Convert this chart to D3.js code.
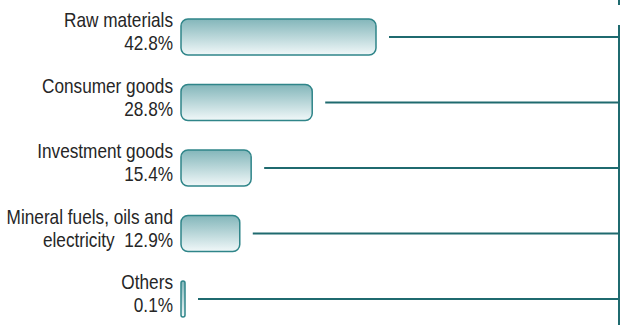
<!DOCTYPE html>
<html>
<head>
<meta charset="utf-8">
<script src="https://cdn.jsdelivr.net/npm/d3@7"></script>
<style>
  body { margin: 0; background: #fff; }
  svg { display: block; }
  .label { font-family: "Liberation Sans", Arial, sans-serif; font-size: 21px; fill: #262626; }
</style>
</head>
<body>
<svg width="620" height="325"></svg>
<script>
  const categories = ['Raw materials', 'Consumer goods', 'Investment goods', 'Mineral fuels, oils and', 'Others'];
  const labelLine2 = ['42.8%', '28.8%', '15.4%', 'electricity  12.9%', '0.1%'];
  const values = [42.8, 28.8, 15.4, 12.9, 0.1];

  const svg = d3.select('svg');
  const width = 620;
  const height = 325;

  const barLeft = 181;
  const rightEdge = 619;

  const xScale = d3.scaleLinear()
    .domain([0, 42.8])
    .range([0, 195]);

  const yScale = d3.scalePoint()
    .domain(categories)
    .range([37, 299]);

  const barH = 36;

  // gradient for the rounded bars
  const grad = svg.append('defs').append('linearGradient')
    .attr('id', 'barFill')
    .attr('x1', 0).attr('y1', 0).attr('x2', 0).attr('y2', 1);
  grad.append('stop').attr('offset', '0%').attr('stop-color', '#83b6ba');
  grad.append('stop').attr('offset', '100%').attr('stop-color', '#f1f8f9');

  const data = categories.map((c, i) => ({ cat: c, line2: labelLine2[i], value: values[i] }));

  // right-hand frame line
  svg.append('line')
    .attr('x1', rightEdge).attr('x2', rightEdge)
    .attr('y1', 25).attr('y2', height)
    .attr('stroke', '#1f6a6f')
    .attr('stroke-width', 2);
  svg.append('line')
    .attr('x1', rightEdge).attr('x2', rightEdge)
    .attr('y1', 0).attr('y2', 5)
    .attr('stroke', '#1f6a6f')
    .attr('stroke-width', 2);

  const rows = svg.selectAll('g.row')
    .data(data)
    .enter()
    .append('g')
    .attr('class', 'row');

  const barW = (d) => Math.max(xScale(d.value), 4);

  rows.append('rect')
    .attr('x', barLeft)
    .attr('y', (d) => yScale(d.cat) - barH / 2)
    .attr('width', barW)
    .attr('height', barH)
    .attr('rx', (d) => Math.min(7, barW(d) / 2))
    .attr('fill', 'url(#barFill)')
    .attr('stroke', '#2f8589')
    .attr('stroke-width', 1.5);

  // leader lines to the frame
  rows.append('line')
    .attr('x1', (d) => barLeft + barW(d) + 13)
    .attr('x2', rightEdge)
    .attr('y1', (d) => yScale(d.cat))
    .attr('y2', (d) => yScale(d.cat))
    .attr('stroke', '#1f6a6f')
    .attr('stroke-width', 2);

  // two-line labels, slightly condensed
  rows.append('text')
    .attr('class', 'label')
    .attr('text-anchor', 'end')
    .attr('transform', (d) => `translate(173, ${yScale(d.cat) - 10}) scale(0.82, 1)`)
    .text((d) => d.cat);

  rows.append('text')
    .attr('class', 'label')
    .attr('text-anchor', 'end')
    .attr('transform', (d) => `translate(173, ${yScale(d.cat) + 13}) scale(0.82, 1)`)
    .attr('xml:space', 'preserve')
    .style('white-space', 'pre')
    .text((d) => d.line2);
</script>
</body>
</html>
